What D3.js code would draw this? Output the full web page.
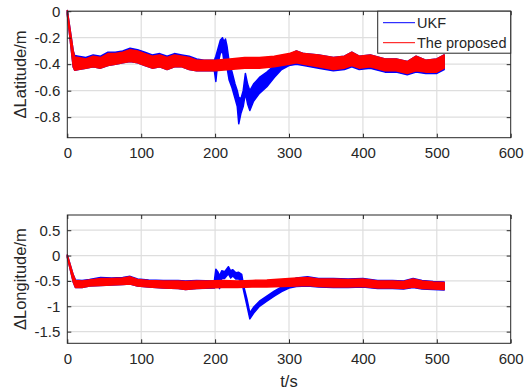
<!DOCTYPE html>
<html>
<head>
<meta charset="utf-8">
<script src="https://cdn.jsdelivr.net/npm/d3@7"></script>
<style>
  body { margin: 0; background: #fff; }
  svg { display: block; font-family: "Liberation Sans", Arial, sans-serif; }
</style>
</head>
<body>
<svg id="chart" width="530" height="392"></svg>
<script>
// time ticks shared by both panels
var xTicks = [0, 100, 200, 300, 400, 500, 600];

// latitude, proposed filter: upper / lower envelope of the noisy trace
var latRedT  = [0, 8, 10, 15, 25, 35, 45, 55, 65, 75, 85, 95, 105, 115, 125, 135, 145, 155, 165, 175, 185, 200, 220, 240, 260, 280, 300, 310, 320, 340, 360, 375, 385, 395, 410, 430, 445, 460, 472, 485, 500, 510];
var latRedHi = [0.005, -0.30, -0.345, -0.35, -0.36, -0.34, -0.35, -0.32, -0.32, -0.31, -0.29, -0.30, -0.32, -0.34, -0.33, -0.35, -0.33, -0.34, -0.35, -0.37, -0.37, -0.37, -0.36, -0.35, -0.35, -0.34, -0.32, -0.30, -0.32, -0.33, -0.35, -0.34, -0.31, -0.34, -0.33, -0.36, -0.36, -0.38, -0.34, -0.37, -0.36, -0.33];
var latRedLo = [-0.02, -0.42, -0.445, -0.44, -0.43, -0.42, -0.43, -0.41, -0.40, -0.39, -0.38, -0.39, -0.41, -0.43, -0.42, -0.44, -0.42, -0.42, -0.44, -0.45, -0.45, -0.45, -0.44, -0.43, -0.43, -0.42, -0.40, -0.39, -0.40, -0.42, -0.44, -0.43, -0.41, -0.43, -0.42, -0.45, -0.45, -0.47, -0.45, -0.46, -0.46, -0.43];

// latitude, UKF
var latUkfT  = [0, 8, 10, 15, 25, 35, 45, 55, 65, 75, 85, 95, 105, 115, 125, 135, 145, 155, 165, 175, 185, 199, 201, 203, 207, 210, 212, 214, 216, 219, 223, 227, 230, 232, 235, 238, 241, 244, 247, 252, 260, 270, 280, 290, 300, 310, 320, 340, 360, 375, 385, 395, 410, 430, 445, 460, 472, 485, 500, 510];
var latUkfHi = [0.005, -0.30, -0.335, -0.34, -0.35, -0.33, -0.34, -0.31, -0.31, -0.30, -0.28, -0.29, -0.31, -0.33, -0.32, -0.34, -0.32, -0.33, -0.34, -0.36, -0.37, -0.37, -0.34, -0.30, -0.22, -0.20, -0.23, -0.21, -0.26, -0.38, -0.46, -0.55, -0.60, -0.65, -0.66, -0.60, -0.47, -0.55, -0.60, -0.55, -0.50, -0.46, -0.41, -0.37, -0.33, -0.30, -0.32, -0.33, -0.35, -0.34, -0.31, -0.34, -0.33, -0.36, -0.36, -0.38, -0.34, -0.37, -0.36, -0.33];
var latUkfLo = [-0.02, -0.42, -0.445, -0.44, -0.43, -0.42, -0.43, -0.41, -0.40, -0.39, -0.38, -0.39, -0.41, -0.43, -0.42, -0.44, -0.42, -0.42, -0.44, -0.45, -0.45, -0.45, -0.53, -0.42, -0.32, -0.30, -0.38, -0.33, -0.42, -0.52, -0.58, -0.66, -0.72, -0.85, -0.77, -0.72, -0.62, -0.70, -0.75, -0.68, -0.62, -0.57, -0.50, -0.44, -0.41, -0.40, -0.41, -0.43, -0.45, -0.44, -0.42, -0.44, -0.43, -0.46, -0.46, -0.48, -0.46, -0.47, -0.47, -0.44];

// longitude, proposed filter
var lonRedT  = [0, 8, 11, 20, 30, 45, 60, 75, 85, 95, 110, 130, 150, 160, 175, 190, 210, 230, 250, 270, 290, 310, 325, 340, 360, 380, 400, 420, 440, 455, 468, 480, 495, 510];
var lonRedHi = [0.01, -0.38, -0.49, -0.50, -0.48, -0.45, -0.45, -0.44, -0.42, -0.47, -0.49, -0.50, -0.50, -0.51, -0.50, -0.50, -0.49, -0.50, -0.49, -0.48, -0.46, -0.44, -0.43, -0.46, -0.46, -0.47, -0.46, -0.50, -0.50, -0.51, -0.46, -0.50, -0.52, -0.53];
var lonRedLo = [-0.03, -0.52, -0.63, -0.63, -0.60, -0.59, -0.58, -0.57, -0.56, -0.60, -0.62, -0.64, -0.65, -0.67, -0.65, -0.64, -0.63, -0.63, -0.62, -0.62, -0.61, -0.60, -0.59, -0.61, -0.62, -0.62, -0.61, -0.64, -0.64, -0.65, -0.62, -0.65, -0.66, -0.67];

// longitude, UKF
var lonUkfT  = [0, 8, 11, 20, 30, 45, 60, 75, 85, 95, 110, 130, 150, 160, 175, 199, 201, 204, 206, 209, 213, 218, 221, 224, 228, 232, 236, 239, 243, 247, 252, 260, 270, 280, 290, 300, 310, 325, 340, 360, 380, 400, 420, 440, 455, 468, 480, 495, 510];
var lonUkfHi = [0.01, -0.38, -0.48, -0.49, -0.47, -0.43, -0.44, -0.43, -0.41, -0.46, -0.48, -0.49, -0.49, -0.50, -0.49, -0.50, -0.27, -0.33, -0.40, -0.30, -0.32, -0.22, -0.30, -0.28, -0.34, -0.33, -0.37, -0.62, -0.85, -1.13, -1.02, -0.90, -0.80, -0.70, -0.62, -0.55, -0.44, -0.42, -0.45, -0.45, -0.46, -0.45, -0.49, -0.49, -0.50, -0.45, -0.49, -0.51, -0.52];
var lonUkfLo = [-0.03, -0.52, -0.63, -0.63, -0.60, -0.59, -0.58, -0.57, -0.56, -0.60, -0.62, -0.64, -0.65, -0.67, -0.65, -0.64, -0.45, -0.50, -0.65, -0.45, -0.45, -0.36, -0.44, -0.40, -0.46, -0.46, -0.52, -0.72, -0.98, -1.25, -1.14, -1.00, -0.90, -0.80, -0.71, -0.64, -0.61, -0.60, -0.62, -0.63, -0.63, -0.62, -0.65, -0.65, -0.66, -0.63, -0.66, -0.67, -0.68];

var latTicks = [0, -0.2, -0.4, -0.6, -0.8];
var lonTicks = [0.5, 0, -0.5, -1, -1.5];
var seriesNames = ["UKF", "The proposed"];
var seriesColors = ["#0000ff", "#ff0000"];

var TEXT = "#262626";
var svg = d3.select("#chart");

function zip(t, hi, lo) {
    return t.map(function(v, i) { return {t: v, hi: hi[i], lo: lo[i]}; });
}

/*
 * Draw one panel with its box, grid, ticks and the two bands.
 */
function drawPanel(opt) {
    var x = d3.scaleLinear().domain([0, 600]).range([67.3, 510.7]);
    var y = d3.scaleLinear().domain(opt.yDomain).range([opt.bottom, opt.top]);
    var g = svg.append("g");

    // grid
    g.selectAll()
        .data(xTicks.slice(1, -1))
        .enter()
        .append("line")
        .attr("x1", function(d) { return x(d); })
        .attr("x2", function(d) { return x(d); })
        .attr("y1", opt.top)
        .attr("y2", opt.bottom)
        .attr("stroke", "#dedede")
        .attr("stroke-width", 1.2);
    g.selectAll()
        .data(opt.yTicks)
        .enter()
        .append("line")
        .attr("x1", x(0))
        .attr("x2", x(600))
        .attr("y1", function(d) { return y(d); })
        .attr("y2", function(d) { return y(d); })
        .attr("stroke", "#dedede")
        .attr("stroke-width", 1.2);

    // bands: UKF first, the proposed on top
    var area = d3.area()
        .x(function(d) { return x(d.t); })
        .y0(function(d) { return y(d.lo); })
        .y1(function(d) { return y(d.hi); });

    opt.series.forEach(function(s, i) {
        g.append("path")
            .datum(s)
            .attr("d", area)
            .attr("fill", seriesColors[i])
            .attr("stroke", seriesColors[i])
            .attr("stroke-width", 1.5)
            .attr("stroke-linejoin", "round");
    });

    // axes
    var xAxis = g.append("g")
        .attr("transform", "translate(0," + opt.bottom + ")")
        .call(d3.axisBottom(x).tickValues(xTicks).tickSize(-4).tickPadding(10));
    var xTop = g.append("g")
        .attr("transform", "translate(0," + opt.top + ")")
        .call(d3.axisTop(x).tickValues(xTicks).tickSize(-4).tickFormat(""));
    var yAxis = g.append("g")
        .attr("transform", "translate(" + x(0) + ",0)")
        .call(d3.axisLeft(y).tickValues(opt.yTicks).tickSize(-4).tickPadding(7)
              .tickFormat(function(d) { return d === 0 ? "0" : String(d); }));
    var yRight = g.append("g")
        .attr("transform", "translate(" + x(600) + ",0)")
        .call(d3.axisRight(y).tickValues(opt.yTicks).tickSize(-4).tickFormat(""));

    [xAxis, xTop, yAxis, yRight].forEach(function(a) {
        a.select(".domain").remove();
        a.selectAll("line").attr("stroke", TEXT);
        a.selectAll("text")
            .attr("fill", TEXT)
            .attr("font-size", "15px")
            .attr("font-family", "Liberation Sans, Arial, sans-serif");
    });
    xAxis.selectAll("text").attr("dy", "0.71em");

    g.append("rect")
        .attr("x", x(0))
        .attr("y", opt.top)
        .attr("width", x(600) - x(0))
        .attr("height", opt.bottom - opt.top)
        .attr("fill", "none")
        .attr("stroke", TEXT)
        .attr("stroke-width", 1);

    g.append("text")
        .attr("transform", "translate(26," + (opt.top + opt.bottom) / 2 + ") rotate(-90)")
        .attr("text-anchor", "middle")
        .attr("fill", TEXT)
        .attr("font-size", "16.5px")
        .text(opt.label);

    return {x: x, y: y};
}

drawPanel({
    top: 11.2, bottom: 137.7,
    yDomain: [-0.955, 0],
    yTicks: latTicks,
    label: "\u0394Latitude/m",
    series: [zip(latUkfT, latUkfHi, latUkfLo), zip(latRedT, latRedHi, latRedLo)]
});

drawPanel({
    top: 215, bottom: 343.3,
    yDomain: [-1.73, 0.8],
    yTicks: lonTicks,
    label: "\u0394Longitude/m",
    series: [zip(lonUkfT, lonUkfHi, lonUkfLo), zip(lonRedT, lonRedHi, lonRedLo)]
});

svg.append("text")
    .attr("x", 289)
    .attr("y", 387)
    .attr("text-anchor", "middle")
    .attr("fill", TEXT)
    .attr("font-size", "16.5px")
    .text("t/s");

// legend
var legend = svg.append("g");
legend.append("rect")
    .attr("x", 377.7)
    .attr("y", 11.2)
    .attr("width", 133)
    .attr("height", 42)
    .attr("fill", "#fff")
    .attr("stroke", TEXT)
    .attr("stroke-width", 1);

var items = legend.selectAll()
    .data(seriesNames)
    .enter()
    .append("g")
    .attr("transform", function(d, i) { return "translate(0," + (22.7 + i * 20) + ")"; });
items.append("line")
    .attr("x1", 383)
    .attr("x2", 415)
    .attr("stroke", function(d, i) { return seriesColors[i]; })
    .attr("stroke-width", 1);
items.append("text")
    .attr("x", 417)
    .attr("dy", "0.35em")
    .attr("fill", TEXT)
    .attr("font-size", "14.5px")
    .text(function(d) { return d; });
</script>
</body>
</html>
